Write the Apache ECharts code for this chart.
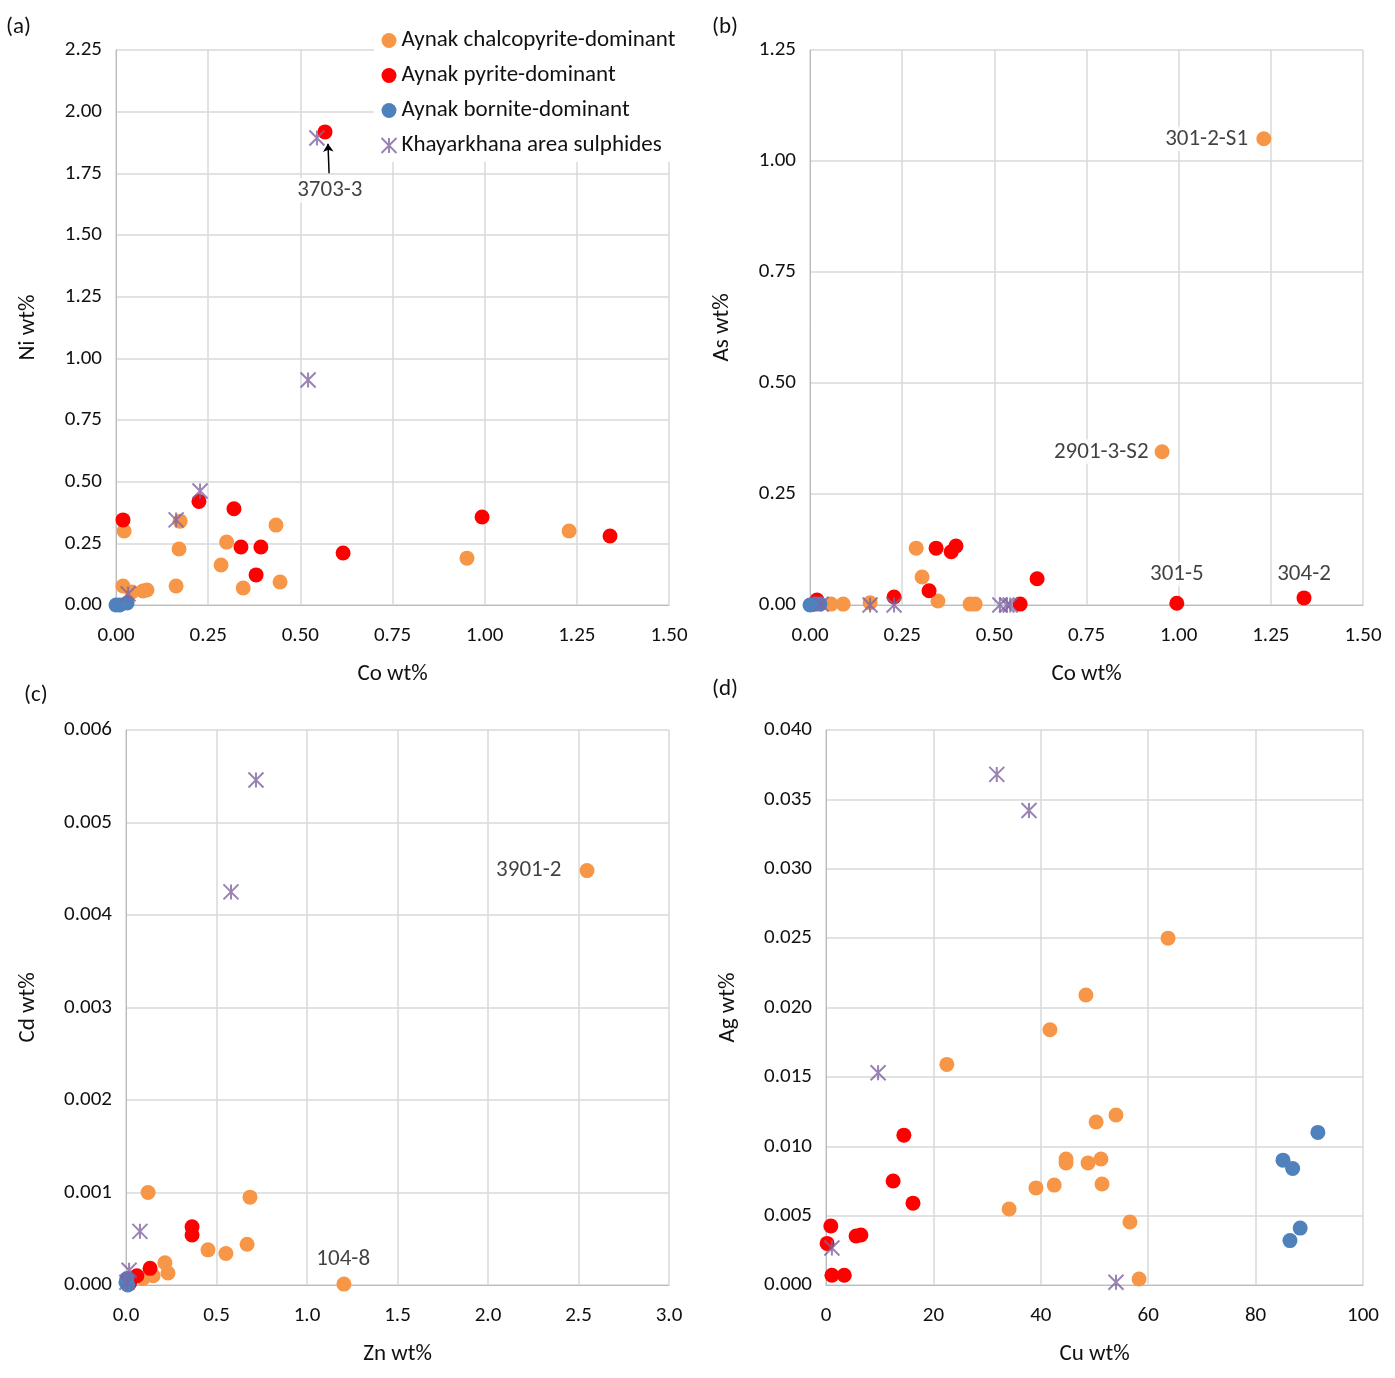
<!DOCTYPE html>
<html>
<head>
<meta charset="utf-8">
<script src="https://cdn.jsdelivr.net/npm/echarts@6/dist/echarts.min.js"></script>
<style>body{margin:0;background:#fff}#chart{width:1395px;height:1378px}</style>
</head>
<body>
<div id="chart"></div>
<script>
var seriesNames = ['Aynak chalcopyrite-dominant', 'Aynak pyrite-dominant', 'Aynak bornite-dominant', 'Khayarkhana area sulphides'];

// (a) Co vs Ni
var aCpy = [[0.022,0.30],[0.019,0.077],[0.043,0.053],[0.073,0.057],[0.084,0.061],[0.174,0.34],[0.171,0.227],[0.163,0.077],[0.30,0.255],[0.285,0.162],[0.345,0.069],[0.434,0.324],[0.445,0.093],[0.952,0.19],[1.229,0.30]];
var aPy = [[0.019,0.345],[0.225,0.42],[0.32,0.39],[0.339,0.235],[0.393,0.235],[0.38,0.122],[0.616,0.211],[0.993,0.357],[1.34,0.28],[0.567,1.918]];
var aBn = [[0.0,0.0],[0.01,0.0],[0.03,0.008]];
var aKh = [[0.545,1.893],[0.521,0.912],[0.228,0.462],[0.163,0.345],[0.033,0.045]];
var aNotes = [[0.58,1.68,'3703-3']];

// (b) Co vs As
var bCpy = [[1.231,1.05],[0.955,0.345],[0.288,0.128],[0.304,0.063],[0.347,0.009],[0.434,0.002],[0.448,0.002],[0.09,0.002],[0.057,0.002],[0.163,0.005]];
var bPy = [[0.342,0.128],[0.396,0.133],[0.383,0.12],[0.323,0.032],[0.616,0.059],[0.57,0.002],[0.995,0.004],[1.34,0.016],[0.228,0.018],[0.019,0.011]];
var bBn = [[0.0,0.0],[0.014,0.002],[0.027,0.002]];
var bKh = [[0.03,0.002],[0.163,0.0],[0.228,0.0],[0.515,0.0],[0.534,0.0],[0.543,0.0]];
var bNotesLeft = [[1.21,1.05,'301-2-S1'],[0.94,0.345,'2901-3-S2']];
var bNotesTop = [[0.995,0.07,'301-5'],[1.34,0.07,'304-2']];

// (c) Zn vs Cd
var cCpy = [[2.547,0.00448],[0.122,0.001],[0.685,0.00095],[0.669,0.00044],[0.453,0.00038],[0.552,0.00034],[0.215,0.00024],[0.232,0.00013],[1.204,0.00001],[0.15,0.0001],[0.094,0.00007]];
var cPy = [[0.365,0.00063],[0.365,0.00054],[0.133,0.00018],[0.06,0.0001],[0.02,0.00002]];
var cBn = [[0.0,0.00003],[0.005,0.00007],[0.01,0.0]];
var cKh = [[0.718,0.00546],[0.58,0.00425],[0.077,0.00058],[0.017,0.00016],[0.005,0.00003]];
var cNotesLeft = [[2.45,0.00448,'3901-2']];
var cNotesTop = [[1.2,0.00028,'104-8']];

// (d) Cu vs Ag
var dCpy = [[63.7,0.025],[48.4,0.0209],[41.7,0.0184],[22.5,0.0159],[54.0,0.01225],[50.3,0.01175],[44.7,0.00908],[44.7,0.0088],[48.8,0.0088],[51.2,0.00908],[39.1,0.007],[42.5,0.0072],[51.4,0.00728],[34.1,0.00548],[56.6,0.00454],[58.3,0.00043]];
var dPy = [[14.5,0.0108],[12.5,0.0075],[16.2,0.0059],[5.6,0.00353],[6.5,0.0036],[0.9,0.00425],[0.2,0.003],[1.1,0.0007],[3.4,0.0007]];
var dBn = [[91.6,0.011],[85.1,0.009],[86.9,0.0084],[88.3,0.0041],[86.4,0.0032]];
var dKh = [[31.8,0.0368],[37.8,0.0342],[9.7,0.0153],[1.1,0.00267],[54,0.0002]];

var colors = ['#f79646', '#ff0000', '#4f81bd', '#8064a2'];
var starPath = 'path://M0,0L10,10M10,0L0,10M5,0L5,10';
var font = 'Calibri, Carlito, Lato, sans-serif';

var grids = [
    { left: 116, top: 50, width: 553, height: 555 },
    { left: 810, top: 50, width: 553, height: 555 },
    { left: 126, top: 730, width: 543, height: 555 },
    { left: 826, top: 730, width: 537, height: 555 }
];

function makeX(i, name, max, interval, dec) {
    return {
        gridIndex: i, type: 'value', min: 0, max: max, interval: interval,
        name: name, nameLocation: 'middle', nameGap: 58,
        nameTextStyle: { fontSize: 23, color: '#111', fontFamily: font },
        axisLine: { show: true, lineStyle: { color: '#bbb' } },
        axisTick: { show: false },
        axisLabel: { fontSize: 21, color: '#111', fontFamily: font, margin: 20, formatter: function (v) { return v.toFixed(dec); } },
        splitLine: { lineStyle: { color: '#d9d9d9', width: 1.5 } }
    };
}
function makeY(i, name, max, interval, dec, gap) {
    return {
        gridIndex: i, type: 'value', min: 0, max: max, interval: interval,
        name: name, nameLocation: 'middle', nameGap: gap,
        nameTextStyle: { fontSize: 23, color: '#111', fontFamily: font },
        axisLine: { show: true, lineStyle: { color: '#bbb' } },
        axisTick: { show: false },
        axisLabel: { fontSize: 21, color: '#111', fontFamily: font, margin: 14, formatter: function (v) { return v.toFixed(dec); } },
        splitLine: { lineStyle: { color: '#d9d9d9', width: 1.5 } }
    };
}

var series = [];
function addNotes(i, notes, pos) {
    series.push({
        type: 'scatter', xAxisIndex: i, yAxisIndex: i, data: notes, symbolSize: 0, z: 10, silent: true,
        label: {
            show: true, formatter: function (p) { return p.value[2]; },
            position: pos, fontSize: 23, color: '#111', fontFamily: font,
            backgroundColor: '#fff', padding: [1, 3]
        }
    });
}
function addPanel(i, sets) {
    for (var k = 0; k < 4; k++) {
        var s = {
            name: seriesNames[k], type: 'scatter', xAxisIndex: i, yAxisIndex: i,
            data: sets[k], symbolSize: 15, z: 3 + k,
            itemStyle: { color: colors[k], opacity: 1 }
        };
        if (k == 3) {
            s.symbol = starPath;
            s.symbolSize = 15;
            s.itemStyle = { color: 'none', borderColor: colors[3], borderWidth: 2 };
        }
        series.push(s);
    }
}
addPanel(0, [aCpy, aPy, aBn, aKh]);
addNotes(0, aNotes, 'inside');
addPanel(1, [bCpy, bPy, bBn, bKh]);
addNotes(1, bNotesLeft, 'left');
addNotes(1, bNotesTop, 'inside');
addPanel(2, [cCpy, cPy, cBn, cKh]);
addNotes(2, cNotesLeft, 'left');
addNotes(2, cNotesTop, 'inside');
addPanel(3, [dCpy, dPy, dBn, dKh]);

// arrow for 3703-3
series.push({
    type: 'lines', coordinateSystem: 'cartesian2d', xAxisIndex: 0, yAxisIndex: 0, z: 9, silent: true,
    symbol: ['none', 'arrow'], symbolSize: 8,
    lineStyle: { color: '#000', width: 1.5, opacity: 1 },
    data: [{ coords: [[0.578, 1.75], [0.575, 1.87]] }]
});

var chart = echarts.init(document.getElementById('chart'));
chart.setOption({
    backgroundColor: '#fff',
    animation: false,
    grid: grids,
    xAxis: [
        makeX(0, 'Co wt%', 1.5, 0.25, 2),
        makeX(1, 'Co wt%', 1.5, 0.25, 2),
        makeX(2, 'Zn wt%', 3, 0.5, 1),
        makeX(3, 'Cu wt%', 100, 20, 0)
    ],
    yAxis: [
        makeY(0, 'Ni wt%', 2.25, 0.25, 2, 76),
        makeY(1, 'As wt%', 1.25, 0.25, 2, 76),
        makeY(2, 'Cd wt%', 0.006, 0.001, 3, 86),
        makeY(3, 'Ag wt%', 0.04, 0.005, 3, 86)
    ],
    legend: {
        data: [
            { name: seriesNames[0], icon: 'circle' },
            { name: seriesNames[1], icon: 'circle' },
            { name: seriesNames[2], icon: 'circle' },
            { name: seriesNames[3], icon: starPath, itemStyle: { color: 'none', borderColor: colors[3], borderWidth: 2 } }
        ],
        orient: 'vertical', left: 374, top: 24, itemGap: 12, itemWidth: 15, itemHeight: 15,
        backgroundColor: '#fff',
        textStyle: { fontSize: 23, color: '#111', fontFamily: font }
    },
    graphic: [
        { type: 'text', left: 6, top: 16, style: { text: '(a)', fontSize: 23, fill: '#111', fontFamily: font } },
        { type: 'text', left: 712, top: 16, style: { text: '(b)', fontSize: 23, fill: '#111', fontFamily: font } },
        { type: 'text', left: 24, top: 684, style: { text: '(c)', fontSize: 23, fill: '#111', fontFamily: font } },
        { type: 'text', left: 712, top: 678, style: { text: '(d)', fontSize: 23, fill: '#111', fontFamily: font } }
    ],
    series: series
});
</script>
</body>
</html>
